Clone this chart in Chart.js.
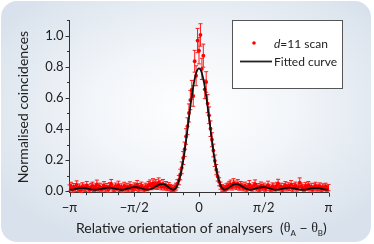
<!DOCTYPE html>
<html>
<head>
<meta charset="utf-8">
<script src="https://cdn.jsdelivr.net/npm/chart.js@4.4.0/dist/chart.umd.min.js"></script>
<style>
    html, body { margin: 0; padding: 0; background: #ffffff; }
    #wrap { position: relative; width: 374px; height: 244px; overflow: hidden; }
    .panel {
        position: absolute; left: 1px; top: 1px; width: 370px; height: 241px;
        border-radius: 16px;
        background: radial-gradient(ellipse 62% 62% at 52% 45%, #ffffff 0%, #f2f5f9 45%, #d9e2ec 100%);
    }
    canvas { position: absolute; left: 0; top: 0; }
</style>
</head>
<body>
<div id="wrap">
    <div class="panel"></div>
    <canvas id="chart" width="374" height="244"></canvas>
</div>
<script>
// Scan angles (degrees, plotted as -pi .. pi)
const scanAngles = [
    -180,-178,-176,-174,-172,-170,-168,-166,-164,-162,-160,-158,-156,-154,-152,-150,-148,-146,-144,-142,
    -140,-138,-136,-134,-132,-130,-128,-126,-124,-122,-120,-118,-116,-114,-112,-110,-108,-106,-104,-102,
    -100,-98,-96,-94,-92,-90,-88,-86,-84,-82,-80,-78,-76,-74,-72,-70,-68,-66,-64,-62,
    -60,-58,-56,-54,-52,-50,-48,-46,-44,-42,-40,-38,-36,-34,-32,-30,-28,-26,-24,-22,
    -20,-18,-16,-14,-12,-10,-8,-6,-4,-2,0,2,4,6,8,10,12,14,16,18,
    20,22,24,26,28,30,32,34,36,38,40,42,44,46,48,50,52,54,56,58,
    60,62,64,66,68,70,72,74,76,78,80,82,84,86,88,90,92,94,96,98,
    100,102,104,106,108,110,112,114,116,118,120,122,124,126,128,130,132,134,136,138,
    140,142,144,146,148,150,152,154,156,158,160,162,164,166,168,170,172,174,176,178,180
];

// Normalised coincidences for the d=11 scan
const scanValues = [
    0.021,0.034,0.012,0.028,0.019,0.041,0.015,0.026,0.009,0.032,
    0.024,0.017,0.038,0.022,0.013,0.029,0.035,0.018,0.026,0.044,
    0.021,0.030,0.014,0.025,0.037,0.019,0.028,0.011,0.033,0.047,
    0.022,0.016,0.031,0.024,0.039,0.018,0.027,0.012,0.034,0.021,
    0.029,0.015,0.036,0.023,0.017,0.031,0.026,0.042,0.019,0.028,
    0.035,0.022,0.013,0.030,0.024,0.038,0.045,0.033,0.051,0.040,
    0.047,0.036,0.055,0.042,0.031,0.048,0.029,0.038,0.024,0.033,
    0.024,0.018,0.015,0.021,0.030,0.049,0.072,0.108,0.151,0.214,
    0.270,0.352,0.418,0.503,0.586,0.652,0.612,0.835,0.742,0.968,
    0.903,1.004,0.786,0.871,0.655,0.702,0.563,0.488,0.402,0.331,
    0.262,0.196,0.139,0.095,0.061,0.036,0.022,0.016,0.019,0.027,
    0.031,
    0.038,0.045,0.029,0.052,0.041,0.034,0.048,0.027,0.039,0.031,
    0.022,0.036,0.017,0.028,0.043,0.025,0.019,0.033,0.046,0.021,
    0.029,0.014,0.037,0.024,0.031,0.018,0.026,0.040,0.023,0.015,
    0.032,0.027,0.019,0.035,0.049,0.022,0.030,0.016,0.028,0.038,
    0.021,0.033,0.025,0.043,0.018,0.029,0.036,0.020,0.027,0.056,
    0.031,0.024,0.017,0.034,0.026,0.039,0.021,0.030,0.013,0.028,
    0.035,0.019,0.025,0.032,0.016,0.027,0.022,0.030,0.018,0.024
];

// Error bar half-heights
const scanErrors = [
    0.020,0.024,0.018,0.022,0.019,0.026,0.017,0.021,0.016,0.023,
    0.021,0.018,0.025,0.020,0.017,0.022,0.024,0.019,0.021,0.028,
    0.020,0.022,0.017,0.021,0.025,0.019,0.022,0.016,0.023,0.029,
    0.020,0.018,0.022,0.021,0.026,0.019,0.021,0.017,0.024,0.020,
    0.022,0.018,0.025,0.020,0.018,0.023,0.021,0.027,0.019,0.022,
    0.024,0.020,0.017,0.022,0.021,0.025,0.028,0.023,0.030,0.026,
    0.028,0.024,0.031,0.026,0.022,0.028,0.021,0.025,0.020,0.023,
    0.020,0.019,0.018,0.020,0.022,0.026,0.030,0.034,0.038,0.042,
    0.046,0.050,0.054,0.058,0.062,0.060,0.066,0.070,0.064,0.078,
    0.085,0.072,0.068,0.074,0.060,0.066,0.058,0.054,0.050,0.045,
    0.041,0.037,0.033,0.029,0.026,0.023,0.021,0.019,0.019,0.021,
    0.022,
    0.024,0.027,0.021,0.029,0.025,0.023,0.027,0.020,0.024,0.022,
    0.019,0.023,0.017,0.021,0.026,0.020,0.018,0.022,0.027,0.019,
    0.021,0.016,0.023,0.020,0.022,0.018,0.020,0.025,0.019,0.017,
    0.022,0.021,0.018,0.023,0.028,0.019,0.022,0.017,0.021,0.024,
    0.019,0.022,0.020,0.026,0.018,0.021,0.023,0.019,0.020,0.030,
    0.022,0.020,0.017,0.023,0.020,0.024,0.019,0.022,0.016,0.021,
    0.023,0.018,0.020,0.022,0.017,0.021,0.019,0.022,0.018,0.020
];

// Fitted curve
const fitAngles = [
    -180.0,-176.4,-172.8,-169.2,-165.6,-162.0,-158.4,-154.8,-151.2,-147.6,
    -144.0,-140.4,-136.8,-133.2,-129.6,-126.0,-122.4,-118.8,-115.2,-111.6,
    -108.0,-104.4,-100.8,-97.2,-93.6,-90.0,-86.4,-82.8,-79.2,-75.6,
    -72.0,-68.4,-64.8,-61.2,-57.6,-54.0,-50.4,-46.8,-43.2,-39.6,
    -36.0,-32.4,-28.8,-25.2,-21.6,-18.0,-14.4,-10.8,-7.2,-3.6,
    0,
    3.6,7.2,10.8,14.4,18.0,21.6,25.2,28.8,32.4,36.0,
    39.6,43.2,46.8,50.4,54.0,57.6,61.2,64.8,68.4,72.0,
    75.6,79.2,82.8,86.4,90.0,93.6,97.2,100.8,104.4,108.0,
    111.6,115.2,118.8,122.4,126.0,129.6,133.2,136.8,140.4,144.0,
    147.6,151.2,154.8,158.4,162.0,165.6,169.2,172.8,176.4,180.0
];
const fitValues = [
    0.010,0.011,0.014,0.017,0.020,0.021,0.020,0.017,0.014,0.011,
    0.010,0.011,0.014,0.018,0.021,0.023,0.022,0.019,0.015,0.012,
    0.010,0.011,0.015,0.020,0.025,0.027,0.026,0.023,0.018,0.013,
    0.010,0.012,0.018,0.028,0.038,0.045,0.046,0.041,0.029,0.016,
    0.010,0.019,0.053,0.116,0.209,0.326,0.457,0.585,0.693,0.765,
    0.790,
    0.765,0.693,0.585,0.457,0.326,0.209,0.116,0.053,0.019,0.010,
    0.016,0.029,0.041,0.046,0.045,0.038,0.028,0.018,0.012,0.010,
    0.013,0.018,0.023,0.026,0.027,0.025,0.020,0.015,0.011,0.010,
    0.012,0.015,0.019,0.022,0.023,0.021,0.018,0.014,0.011,0.010,
    0.011,0.014,0.017,0.020,0.021,0.020,0.017,0.014,0.011,0.010
];

// Axis ticks
const xTickValues = [-180,-157.5,-135,-112.5,-90,-67.5,-45,-22.5,0,22.5,45,67.5,90,112.5,135,157.5,180];
const xTickLabels = { '-180': '\u2212\u03c0', '-90': '\u2212\u03c0/2', '0': '0', '90': '\u03c0/2', '180': '\u03c0' };
const xMajorTicks = [-180,-135,-90,-45,0,45,90,135,180];
const yTickValues = [0,0.1,0.2,0.3,0.4,0.5,0.6,0.7,0.8,0.9,1.0,1.1];
const yLabelledTicks = [0,0.2,0.4,0.6,0.8,1.0];

const FONT = 'Lato, "Open Sans", sans-serif';
const TEXT = '#222222';

const scanPoints = scanAngles.map((a, i) => ({ x: a, y: scanValues[i], err: scanErrors[i] || 0 }));
const fitPoints = fitAngles.map((a, i) => ({ x: a, y: fitValues[i] }));

// Error bars drawn under the points
const errorBarPlugin = {
    id: 'errorBars',
    beforeDatasetsDraw(chart) {
        const ctx = chart.ctx;
        const xs = chart.scales.x, ys = chart.scales.y;
        ctx.save();
        ctx.strokeStyle = '#ff1a1a';
        ctx.lineWidth = 1;
        scanPoints.forEach(p => {
            const px = xs.getPixelForValue(p.x);
            const top = ys.getPixelForValue(p.y + p.err);
            const bot = ys.getPixelForValue(Math.max(p.y - p.err, -0.009));
            ctx.beginPath();
            ctx.moveTo(px, top); ctx.lineTo(px, bot);
            ctx.moveTo(px - 2, top); ctx.lineTo(px + 2, top);
            ctx.moveTo(px - 2, bot); ctx.lineTo(px + 2, bot);
            ctx.stroke();
        });
        ctx.restore();
    }
};

// Tick marks, axis titles and legend
const decorPlugin = {
    id: 'decor',
    afterDraw(chart) {
        const ctx = chart.ctx;
        const xs = chart.scales.x, ys = chart.scales.y;
        const area = chart.chartArea;
        ctx.save();
        ctx.strokeStyle = '#333333';
        ctx.lineWidth = 1;
        ctx.beginPath();
        yTickValues.forEach(v => {
            const py = Math.round(ys.getPixelForValue(v)) + 0.5;
            const len = yLabelledTicks.some(t => Math.abs(t - v) < 1e-6) ? 4 : 2.5;
            ctx.moveTo(area.left, py); ctx.lineTo(area.left - len, py);
        });
        xTickValues.forEach(v => {
            const px = Math.round(xs.getPixelForValue(v)) + 0.5;
            const len = xMajorTicks.includes(v) ? 4 : 2.5;
            ctx.moveTo(px, area.bottom); ctx.lineTo(px, area.bottom + len);
        });
        ctx.stroke();

        // y title
        ctx.fillStyle = TEXT;
        ctx.font = '14px ' + FONT;
        ctx.textAlign = 'center';
        ctx.textBaseline = 'middle';
        ctx.save();
        ctx.translate(23, 107);
        ctx.rotate(-Math.PI / 2);
        ctx.fillText('Normalised coincidences', 0, 0);
        ctx.restore();

        // x title with subscripts
        let x = 76;
        const y = 228;
        ctx.textAlign = 'left';
        const put = (txt, font, dy) => {
            ctx.font = font;
            ctx.fillText(txt, x, y + (dy || 0));
            x += ctx.measureText(txt).width;
        };
        put('Relative orientation of analysers  (', '14px ' + FONT);
        put('\u03b8', '14px "Liberation Serif", serif');
        put('A', '8px ' + FONT, 5);
        put(' \u2212 ', '14px ' + FONT);
        put('\u03b8', '14px "Liberation Serif", serif');
        put('B', '8px ' + FONT, 5);
        put(')', '14px ' + FONT);

        // legend
        ctx.fillStyle = '#ffffff';
        ctx.fillRect(232.5, 20.5, 110, 68);
        ctx.strokeStyle = '#555555';
        ctx.strokeRect(232.5, 20.5, 110, 68);
        ctx.fillStyle = '#ff0000';
        ctx.beginPath();
        ctx.arc(254, 43, 1.8, 0, Math.PI * 2);
        ctx.fill();
        ctx.strokeStyle = '#222222';
        ctx.lineWidth = 1.8;
        ctx.beginPath();
        ctx.moveTo(240, 61.5); ctx.lineTo(272, 61.5);
        ctx.stroke();
        ctx.fillStyle = TEXT;
        x = 274;
        ctx.font = 'italic 12px ' + FONT;
        ctx.fillText('d', x, 44);
        x += ctx.measureText('d').width;
        ctx.font = '12px ' + FONT;
        ctx.fillText('=11 scan', x, 44);
        ctx.fillText('Fitted curve', 274, 62);
        ctx.restore();
    }
};

new Chart(document.getElementById('chart'), {
    type: 'scatter',
    data: {
        datasets: [
            {
                label: 'Fitted curve',
                data: fitPoints,
                showLine: true,
                borderColor: '#111111',
                borderWidth: 1.8,
                pointRadius: 0,
                cubicInterpolationMode: 'monotone',
                order: 0
            },
            {
                label: 'd=11 scan',
                data: scanPoints,
                backgroundColor: '#ff0000',
                borderColor: '#ff0000',
                borderWidth: 0,
                pointRadius: 1.9,
                order: 1
            }
        ]
    },
    options: {
        responsive: false,
        animation: false,
        layout: { padding: { left: 0, right: 45.5, top: 20, bottom: 0 } },
        plugins: { legend: { display: false }, tooltip: { enabled: false } },
        scales: {
            x: {
                type: 'linear',
                min: -180,
                max: 180,
                afterBuildTicks: s => { s.ticks = xTickValues.map(v => ({ value: v })); },
                afterFit: s => { s.height = 51.3; },
                grid: { display: false, drawTicks: false },
                border: { display: true, color: '#333333', width: 1 },
                ticks: {
                    autoSkip: false,
                    maxRotation: 0,
                    padding: 7,
                    color: TEXT,
                    font: { family: FONT, size: 13 },
                    callback: v => xTickLabels[String(v)] || ''
                }
            },
            y: {
                min: -0.009,
                max: 1.1,
                afterBuildTicks: s => { s.ticks = yTickValues.map(v => ({ value: v })); },
                afterFit: s => { s.width = 69.5; },
                grid: { display: false, drawTicks: false },
                border: { display: true, color: '#333333', width: 1 },
                ticks: {
                    padding: 6,
                    color: TEXT,
                    font: { family: FONT, size: 13 },
                    callback: v => yLabelledTicks.some(t => Math.abs(t - v) < 1e-6) ? v.toFixed(1) : ''
                }
            }
        }
    },
    plugins: [errorBarPlugin, decorPlugin]
});
</script>
</body>
</html>
